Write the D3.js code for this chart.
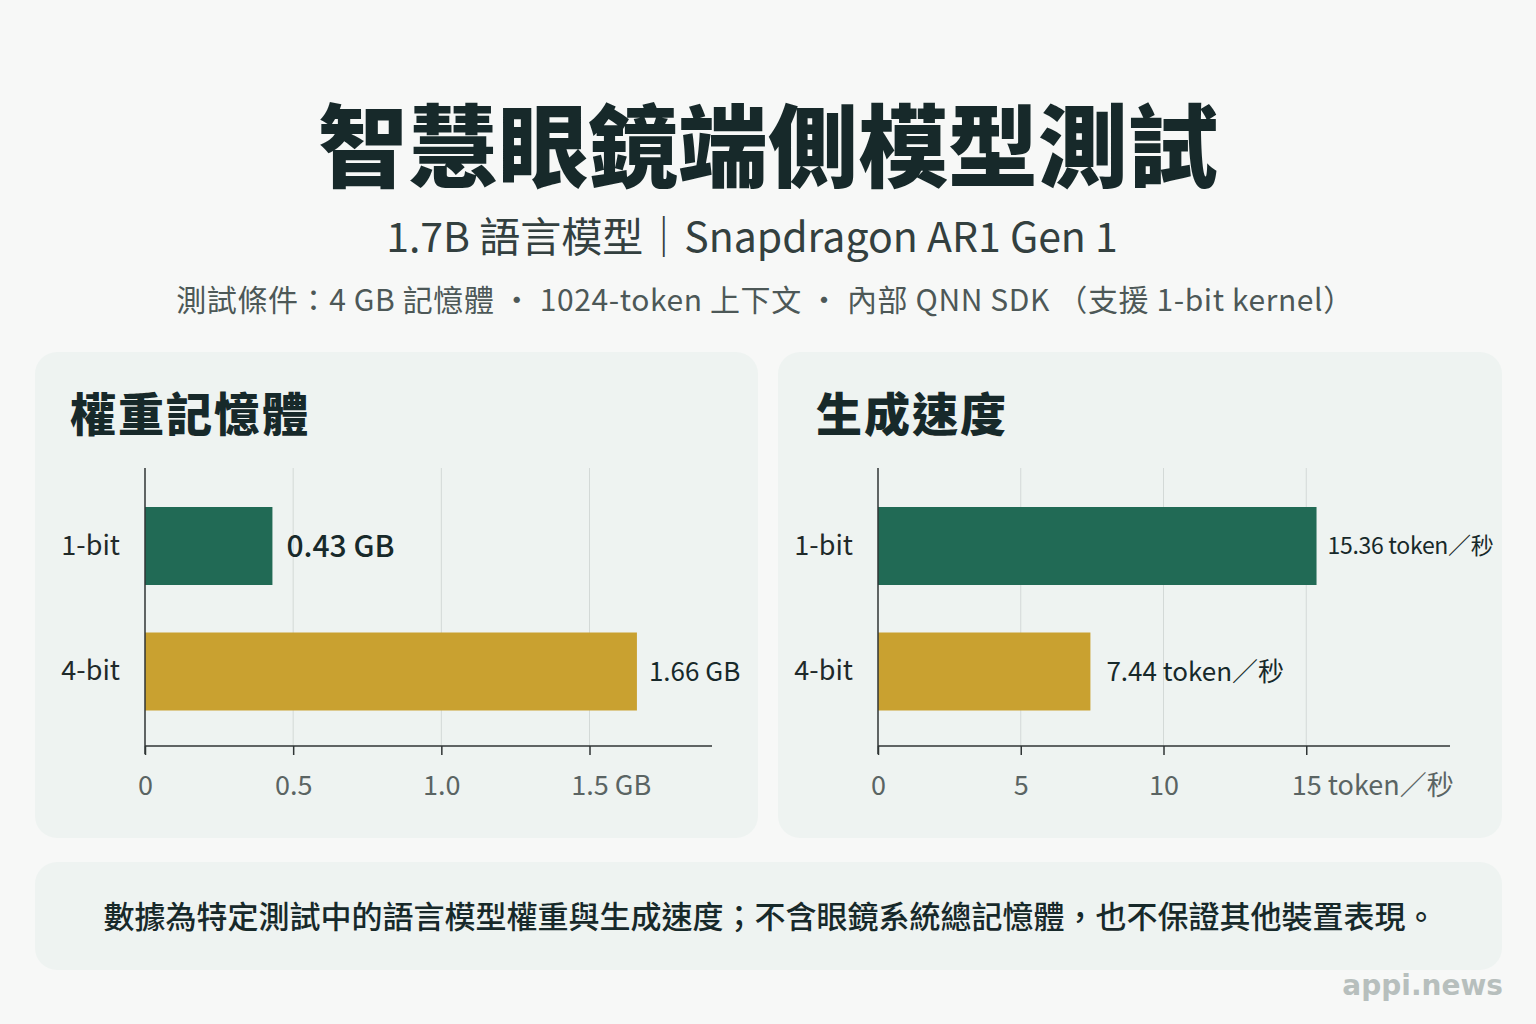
<!DOCTYPE html>
<html><head><meta charset="utf-8">
<script src="https://cdn.jsdelivr.net/npm/d3@7"></script>
<style>
html,body{margin:0;padding:0;background:#f7f8f7;}
svg{display:block;}
</style></head>
<body>
<script>
const categories = ["1-bit","4-bit"];
const memoryValues = [0.43, 1.66];
const memoryLabels = ["0.43 GB","1.66 GB"];
const memoryTicks = [0, 0.5, 1.0, 1.5];
const memoryTickLabels = ["0","0.5","1.0","1.5"];
const memoryUnit = " GB";
const speedValues = [15.36, 7.44];
const speedLabels = ["15.36 token／秒","7.44 token／秒"];
const speedTicks = [0, 5, 10, 15];
const speedTickLabels = ["0","5","10","15"];
const speedUnit = " token／秒";
const colors = ["#216a55","#c9a130"];

const FONT='"Noto Sans CJK TC","Noto Sans",sans-serif';
const W=1536,H=1024;
const svg=d3.select("body").append("svg").attr("width",W).attr("height",H);
svg.append("rect").attr("width",W).attr("height",H).attr("fill","#f7f8f7");

function txt(sel){return sel.style("font-family",FONT);}

// Titles
txt(svg.append("text")).attr("x",768).attr("y",180).attr("text-anchor","middle")
  .attr("font-size",90).attr("font-weight",900).attr("fill","#17292a")
  .text("智慧眼鏡端側模型測試");
txt(svg.append("text")).attr("x",752).attr("y",252).attr("text-anchor","middle")
  .attr("font-size",41).attr("font-weight",400).attr("fill","#33403f")
  .text("1.7B 語言模型｜Snapdragon AR1 Gen 1");
txt(svg.append("text")).attr("x",765).attr("y",311).attr("text-anchor","middle")
  .attr("font-size",30).attr("font-weight",400).attr("fill","#4d5857").attr("letter-spacing",0.6)
  .text("測試條件：4 GB 記憶體 ・ 1024-token 上下文 ・ 內部 QNN SDK （支援 1-bit kernel）");

// Panels
const panelFill="#eef3f1";
svg.append("rect").attr("x",35).attr("y",352).attr("width",723).attr("height",486).attr("rx",22).attr("fill",panelFill);
svg.append("rect").attr("x",778).attr("y",352).attr("width",724).attr("height",486).attr("rx",22).attr("fill",panelFill);
svg.append("rect").attr("x",35).attr("y",862).attr("width",1467).attr("height",108).attr("rx",22).attr("fill",panelFill);

function drawChart(cfg){
  const g=svg.append("g");
  txt(g.append("text")).attr("x",cfg.titleX).attr("y",431).attr("font-size",46).attr("font-weight",900)
    .attr("fill","#17292a").attr("letter-spacing",2).text(cfg.title);
  const x=d3.scaleLinear().domain([0,cfg.max]).range([cfg.x0,cfg.x1]);
  const y=d3.scaleBand().domain(categories).range([507,710.5]).paddingInner(0.3785).paddingOuter(0);
  const top=468, bottom=746;
  // gridlines
  g.selectAll("line.grid").data(cfg.ticks.slice(1)).join("line")
    .attr("x1",d=>x(d)).attr("x2",d=>x(d)).attr("y1",top).attr("y2",bottom)
    .attr("stroke","#d3d9d7").attr("stroke-width",1);
  // bars
  g.selectAll("rect.bar").data(cfg.values).join("rect")
    .attr("x",x(0)).attr("y",(d,i)=>y(categories[i]))
    .attr("width",d=>x(d)-x(0)).attr("height",y.bandwidth())
    .attr("fill",(d,i)=>colors[i]);
  // value labels
  txt(g.selectAll("text.val").data(cfg.values).join("text"))
    .attr("x",(d,i)=>x(d)+cfg.labelGap[i]).attr("y",(d,i)=>y(categories[i])+y.bandwidth()/2)
    .attr("dy","0.36em").attr("font-size",(d,i)=>cfg.valSize[i]).attr("font-weight",(d,i)=>cfg.valWeight[i])
    .attr("letter-spacing",(d,i)=>cfg.valSpacing[i])
    .attr("fill","#17292a").text((d,i)=>cfg.labels[i]);
  // y axis
  const ya=g.append("g").attr("transform",`translate(${x(0)},0)`)
    .call(d3.axisLeft(y).tickSize(0).tickPadding(25));
  ya.select(".domain").attr("stroke","#2f3535").attr("stroke-width",1.5).attr("d",`M0,${top}V${bottom+8}`);
  txt(ya.selectAll("text")).attr("font-size",27).attr("fill","#1f2a2a");
  // x axis
  const xa=g.append("g").attr("transform",`translate(0,${bottom})`)
    .call(d3.axisBottom(x).tickValues(cfg.ticks).tickFormat((d,i)=>cfg.tickLabels[i]).tickSize(9).tickPadding(21));
  xa.select(".domain").attr("stroke","#2f3535").attr("stroke-width",1.5).attr("d",`M${x(0)},0H${cfg.axisEnd}`);
  xa.selectAll(".tick line").attr("stroke","#2f3535").attr("stroke-width",1.5);
  txt(xa.selectAll("text")).attr("font-size",27).attr("fill","#5a6463");
  const last=xa.selectAll(".tick text").filter((d,i,n)=>i===n.length-1);
  const wNum=last.node().getComputedTextLength();
  last.attr("text-anchor","start").attr("x",-wNum/2);
  last.append("tspan").text(cfg.unit);
}

drawChart({title:"權重記憶體",titleX:70,max:1.91,x0:145,x1:711,axisEnd:712,ticks:memoryTicks,tickLabels:memoryTickLabels,
  values:memoryValues,labels:memoryLabels,unit:memoryUnit,labelGap:[14,12],valSize:[30,26],valWeight:[500,400],valSpacing:[0,0]});
drawChart({title:"生成速度",titleX:816,max:20,x0:878,x1:1449,axisEnd:1450,ticks:speedTicks,tickLabels:speedTickLabels,
  values:speedValues,labels:speedLabels,unit:speedUnit,labelGap:[11,16],valSize:[23,26],valWeight:[400,400],valSpacing:[-0.3,0]});

txt(svg.append("text")).attr("x",770).attr("y",928).attr("text-anchor","middle")
  .attr("font-size",31).attr("font-weight",500).attr("fill","#17292a")
  .text("數據為特定測試中的語言模型權重與生成速度；不含眼鏡系統總記憶體，也不保證其他裝置表現。");

svg.append("text").attr("x",1503).attr("y",995).attr("text-anchor","end")
  .attr("font-size",28).attr("font-weight",700).attr("fill","#b7bfbd")
  .style("font-family","'DejaVu Sans',sans-serif").text("appi.news");
</script>
</body></html>
